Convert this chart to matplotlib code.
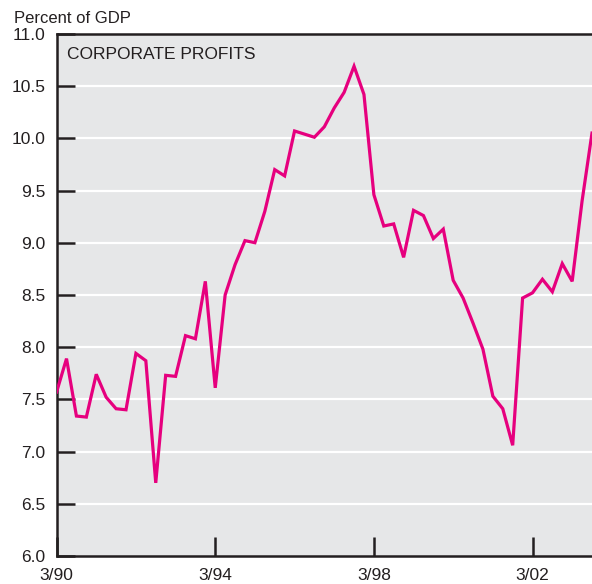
import matplotlib
matplotlib.use("Agg")
import matplotlib.pyplot as plt
import numpy as np

# quarterly, 3/90 .. 9/03
quarters = np.arange(55)
profits = [
    7.57, 7.89, 7.34, 7.33, 7.74, 7.52, 7.41, 7.40,
    7.94, 7.87, 6.70, 7.73, 7.72, 8.11, 8.08, 8.63,
    7.61, 8.50, 8.79, 9.02, 9.00, 9.30, 9.70, 9.64,
    10.07, 10.04, 10.01, 10.11, 10.29, 10.44, 10.69, 10.42,
    9.46, 9.16, 9.18, 8.86, 9.31, 9.26, 9.04, 9.13,
    8.64, 8.47, 8.23, 7.98, 7.53, 7.41, 7.06, 8.47,
    8.52, 8.65, 8.53, 8.80, 8.63, 9.40, 10.05,
]
tick_pos = [0, 16, 32, 48]
tick_labels = ["3/90", "3/94", "3/98", "3/02"]
y_ticks = [6.0, 6.5, 7.0, 7.5, 8.0, 8.5, 9.0, 9.5, 10.0, 10.5, 11.0]

plt.rcParams['font.family'] = ['Liberation Sans', 'DejaVu Sans']

fig = plt.figure(figsize=(5.92, 5.84), dpi=100)
ax = fig.add_axes([0.0956, 0.048, 0.9044, 0.894])
ax.set_facecolor("#e6e7e8")

for y in y_ticks[1:-1]:
    ax.axhline(y, color="white", lw=1.6, zorder=1)

ax.plot(quarters, profits, color="#e6007e", lw=2.3, zorder=3,
        solid_joinstyle="miter")

ax.set_xlim(0, 54)
ax.set_ylim(6.0, 11.0)
ax.set_yticks(y_ticks)
ax.set_yticklabels([f"{v:.1f}" for v in y_ticks])
ax.set_xticks(tick_pos)
ax.set_xticklabels(tick_labels)

for side in ["left", "bottom", "top"]:
    ax.spines[side].set_color("#231f20")
    ax.spines[side].set_linewidth(1.8)
ax.spines["right"].set_visible(False)

ax.tick_params(axis="y", direction="in", length=13, width=1.8,
               color="#231f20", labelsize=12.5, pad=8, labelcolor="#231f20")
ax.tick_params(axis="x", direction="in", length=14, width=1.8,
               color="#231f20", labelsize=12.5, pad=9, labelcolor="#231f20")

ax.text(0.02, 0.975, "CORPORATE PROFITS", transform=ax.transAxes,
        ha="left", va="top", fontsize=12.5, color="#231f20")
fig.text(0.024, 0.968, "Percent of GDP", ha="left", va="center",
         fontsize=12, color="#231f20")

fig.savefig("out.png", dpi=100)
